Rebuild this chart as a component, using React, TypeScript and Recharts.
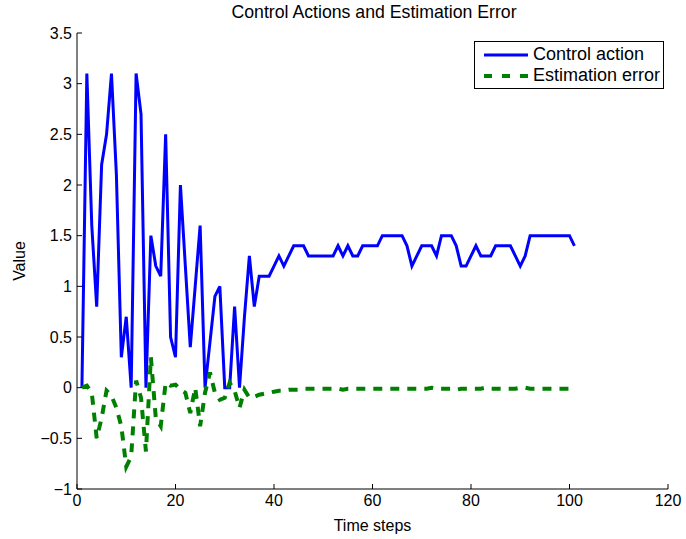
import { LineChart, Line, XAxis, YAxis, Legend } from 'recharts';

// time index 1..101
const timeSteps = Array.from({ length: 101 }, (_, i) => i + 1);

const controlAction = [
  0, 3.1, 1.6, 0.8, 2.2, 2.5, 3.1, 2.1, 0.3, 0.7,
  0, 3.1, 2.7, 0, 1.5, 1.2, 1.1, 2.5, 0.5, 0.3,
  2.0, 1.2, 0.4, 1.0, 1.6, 0, 0.45, 0.9, 1.0, 0,
  0, 0.8, 0, 0.7, 1.3, 0.8, 1.1, 1.1, 1.1, 1.2,
  1.3, 1.2, 1.3, 1.4, 1.4, 1.4, 1.3, 1.3, 1.3, 1.3,
  1.3, 1.3, 1.4, 1.3, 1.4, 1.3, 1.3, 1.4, 1.4, 1.4,
  1.4, 1.5, 1.5, 1.5, 1.5, 1.5, 1.4, 1.2, 1.3, 1.4,
  1.4, 1.4, 1.3, 1.5, 1.5, 1.5, 1.4, 1.2, 1.2, 1.3,
  1.4, 1.3, 1.3, 1.3, 1.4, 1.4, 1.4, 1.4, 1.3, 1.2,
  1.3, 1.5, 1.5, 1.5, 1.5, 1.5, 1.5, 1.5, 1.5, 1.5,
  1.4,
];

const estimationError = [
  0, 0.02, -0.05, -0.5, -0.3, -0.03, -0.08, -0.2, -0.38, -0.78,
  -0.68, 0.07, -0.1, -0.63, 0.3, -0.3, -0.38, 0.05, 0.02, 0.03,
  -0.02, -0.05, -0.25, 0, -0.38, -0.05, 0.15, -0.05, -0.12, -0.1,
  0.05, -0.03, -0.2, -0.02, -0.1, -0.09, -0.07, -0.06, -0.05, -0.04,
  -0.03, -0.03, -0.02, -0.02, -0.02, -0.01, -0.01, -0.01, -0.01, -0.01,
  -0.01, -0.01, -0.01, -0.02, -0.01, -0.01, -0.01, -0.01, -0.01, -0.01,
  -0.01, -0.01, -0.01, -0.01, -0.01, -0.01, -0.01, -0.01, -0.01, -0.01,
  -0.01, 0, -0.01, -0.01, -0.01, -0.01, -0.02, -0.01, -0.01, -0.01,
  -0.01, -0.01, 0, -0.01, -0.01, -0.01, -0.01, -0.01, -0.01, 0,
  0, -0.01, -0.01, -0.01, -0.01, -0.01, -0.01, -0.01, -0.01, -0.01,
  -0.01,
];

const xTicks = [0, 20, 40, 60, 80, 100, 120];
const yTicks = [-1, -0.5, 0, 0.5, 1, 1.5, 2, 2.5, 3, 3.5];

const data = timeSteps.map((t, i) => ({
  t,
  control: controlAction[i],
  error: estimationError[i],
}));

const FONT = '"Liberation Sans", Arial, Helvetica, sans-serif';

const fmtY = (v: number) => String(v).replace('-', '\u2212');

const LegendBox = () => (
  <div
    style={{
      border: '1px solid #000',
      background: '#fff',
      width: 188,
      padding: '2px 0',
      fontFamily: FONT,
      fontSize: 18,
      color: '#000',
      lineHeight: '21px',
      textAlign: 'left',
    }}
  >
    <div style={{ display: 'flex', alignItems: 'center' }}>
      <svg width={58} height={21}>
        <line x1={9} y1={11} x2={53} y2={11} stroke="#0000ff" strokeWidth={3} />
      </svg>
      <span>Control action</span>
    </div>
    <div style={{ display: 'flex', alignItems: 'center' }}>
      <svg width={58} height={21}>
        <line x1={9} y1={11} x2={53} y2={11} stroke="#008000" strokeWidth={4} strokeDasharray="8 10" />
      </svg>
      <span>Estimation error</span>
    </div>
  </div>
);

const App = () => {
  return (
    <div style={{ position: 'absolute', left: 0, top: 0, width: 686, height: 539, background: '#fff' }}>
      <div
        style={{
          position: 'absolute',
          top: 2,
          left: 0,
          width: 686,
          textAlign: 'center',
          fontFamily: FONT,
          fontSize: 17.7,
          color: '#000',
          paddingLeft: 62,
          boxSizing: 'border-box',
        }}
      >
        Control Actions and Estimation Error
      </div>
      <div
        style={{
          position: 'absolute',
          left: 20,
          top: 261,
          transform: 'translate(-50%, -50%) rotate(-90deg)',
          fontFamily: FONT,
          fontSize: 16,
          color: '#000',
          whiteSpace: 'nowrap',
        }}
      >
        Value
      </div>
      <LineChart
        width={686}
        height={539}
        data={data}
        margin={{ top: 33, right: 18, left: 0, bottom: 0 }}
        style={{ fontFamily: FONT }}
      >
        <XAxis
          dataKey="t"
          type="number"
          domain={[0, 120]}
          ticks={xTicks}
          interval={0}
          allowDataOverflow
          height={50}
          tickSize={-5}
          tickMargin={11}
          axisLine={{ stroke: '#000' }}
          tickLine={{ stroke: '#000' }}
          tick={{ fill: '#000', fontSize: 16 }}
          label={{ value: 'Time steps', position: 'insideBottom', offset: 8, fill: '#000', fontSize: 16 }}
        />
        <XAxis
          xAxisId="top"
          orientation="top"
          dataKey="t"
          type="number"
          domain={[0, 120]}
          ticks={xTicks}
          interval={0}
          allowDataOverflow
          height={0}
          tickSize={-5}
          tick={false}
          axisLine={{ stroke: '#000' }}
          tickLine={{ stroke: '#000' }}
        />
        <YAxis
          type="number"
          domain={[-1, 3.5]}
          ticks={yTicks}
          interval={0}
          allowDataOverflow
          width={77}
          tickSize={-5}
          tickMargin={10}
          tickFormatter={fmtY}
          axisLine={{ stroke: '#000' }}
          tickLine={{ stroke: '#000' }}
          tick={{ fill: '#000', fontSize: 16 }}
        />
        <YAxis
          yAxisId="right"
          orientation="right"
          type="number"
          domain={[-1, 3.5]}
          ticks={yTicks}
          interval={0}
          allowDataOverflow
          width={0}
          tickSize={-5}
          tick={false}
          axisLine={{ stroke: '#000' }}
          tickLine={{ stroke: '#000' }}
        />
        <Legend
          layout="vertical"
          align="center"
          verticalAlign="middle"
          content={() => <LegendBox />}
          wrapperStyle={{ position: 'absolute', top: 41, left: 474, width: 190, height: 'auto' }}
        />
        <Line
          type="linear"
          dataKey="control"
          stroke="#0000ff"
          strokeWidth={3}
          dot={false}
          isAnimationActive={false}
          name="Control action"
        />
        <Line
          type="linear"
          dataKey="error"
          stroke="#008000"
          strokeWidth={4}
          strokeDasharray="9 8"
          dot={false}
          isAnimationActive={false}
          name="Estimation error"
        />
      </LineChart>
    </div>
  );
};

export default App;
